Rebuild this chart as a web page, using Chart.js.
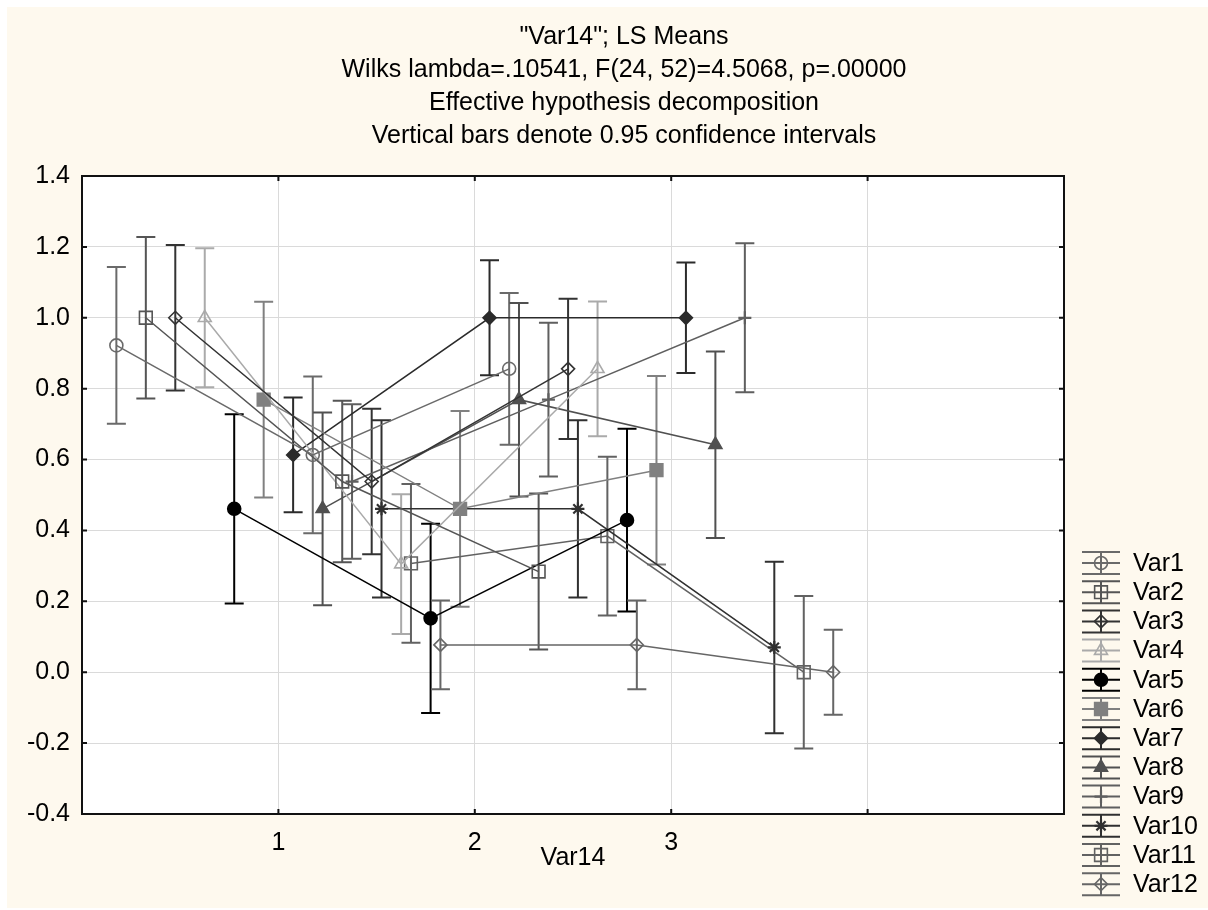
<!DOCTYPE html>
<html>
<head>
<meta charset="utf-8">
<title>"Var14"; LS Means</title>
<script src="https://cdn.jsdelivr.net/npm/chart.js@4.4.1/dist/chart.umd.min.js"></script>
<style>
  html, body { margin: 0; padding: 0; background: #ffffff; }
  #wrap { width: 1208px; height: 910px; }
</style>
</head>
<body>
<div id="wrap"><canvas id="lsChart" width="1208" height="910"></canvas></div>
<script>
// Levels of Var14 (x axis)
const categories = [1, 2, 3];
const xTickLabels = ['1', '2', '3'];
const yTickMin = -0.4;
const yTickMax = 1.4;
const yTickStep = 0.2;

const seriesNames = ['Var1', 'Var2', 'Var3', 'Var4', 'Var5', 'Var6',
                     'Var7', 'Var8', 'Var9', 'Var10', 'Var11', 'Var12'];

// LS means, one value per Var14 level
const var1Means  = [0.922, 0.613, 0.856];
const var2Means  = [1.000, 0.538, 0.284];
const var3Means  = [1.000, 0.538, 0.856];
const var4Means  = [1.000, 0.305, 0.856];
const var5Means  = [0.461, 0.152, 0.429];
const var6Means  = [0.769, 0.461, 0.570];
const var7Means  = [0.613, 1.000, 1.000];
const var8Means  = [0.461, 0.769, 0.642];
const var9Means  = [0.538, 0.769, 1.000];
const var10Means = [0.461, 0.461, 0.070];
const var11Means = [0.307, 0.384, 0.000];
const var12Means = [0.077, 0.077, 0.000];

// Half width of the 0.95 confidence interval
const var1Ci  = [0.221, 0.221, 0.214];
const var2Ci  = [0.228, 0.228, 0.220];
const var3Ci  = [0.205, 0.205, 0.198];
const var4Ci  = [0.196, 0.197, 0.190];
const var5Ci  = [0.267, 0.267, 0.258];
const var6Ci  = [0.276, 0.276, 0.266];
const var7Ci  = [0.162, 0.162, 0.156];
const var8Ci  = [0.272, 0.273, 0.263];
const var9Ci  = [0.218, 0.217, 0.210];
const var10Ci = [0.250, 0.250, 0.242];
const var11Ci = [0.224, 0.224, 0.215];
const var12Ci = [0.125, 0.125, 0.120];

const titleLines = [
    '"Var14"; LS Means',
    'Wilks lambda=.10541, F(24, 52)=4.5068, p=.00000',
    'Effective hypothesis decomposition',
    'Vertical bars denote 0.95 confidence intervals'
];

const allMeans = [var1Means, var2Means, var3Means, var4Means, var5Means, var6Means,
                  var7Means, var8Means, var9Means, var10Means, var11Means, var12Means];
const allCi = [var1Ci, var2Ci, var3Ci, var4Ci, var5Ci, var6Ci,
               var7Ci, var8Ci, var9Ci, var10Ci, var11Ci, var12Ci];

// Styles
const seriesColors = ['#6a6a6a', '#555555', '#333333', '#aaaaaa', '#000000', '#808080',
                      '#2b2b2b', '#505050', '#5f5f5f', '#303030', '#626262', '#666666'];
const pointStyles = ['circle', 'rect', 'rectRot', 'triangle', 'circle', 'rect',
                     'rectRot', 'triangle', 'cross', 'star', 'rect', 'rectRot'];
const pointFilled = [false, false, false, false, true, true, true, true, false, false, false, false];
const pointRadii = {circle: 6.5, rect: 9, rectRot: 6.5, triangle: 7.5, cross: 6.5, star: 6.5};

const FONT = '"Liberation Sans", Arial, sans-serif';
const FONT_SIZE = 25;
const BG = '#fef9ee';

// spread the 12 series side by side around each level
function seriesShift(i) {
    return (i - (seriesNames.length - 1) / 2) * 0.15;
}

const datasets = seriesNames.map((name, i) => {
    const color = seriesColors[i];
    const style = pointStyles[i];
    return {
        label: name,
        data: categories.map((c, j) => ({x: c + seriesShift(i), y: allMeans[i][j]})),
        ci: allCi[i],
        showLine: true,
        borderColor: color,
        borderWidth: 1.5,
        backgroundColor: color,
        pointStyle: style,
        pointRadius: pointRadii[style],
        pointBorderColor: color,
        pointBackgroundColor: pointFilled[i] ? color : 'rgba(0,0,0,0)',
        pointBorderWidth: (style === 'cross' || style === 'star') ? 2.2 : 1.6
    };
});

const statisticaFrame = {
    id: 'statisticaFrame',
    beforeDraw(chart) {
        const {ctx, chartArea: a} = chart;
        ctx.save();
        ctx.fillStyle = '#ffffff';
        ctx.fillRect(0, 0, chart.width, chart.height);
        ctx.fillStyle = BG;
        ctx.fillRect(7, 7, chart.width - 7, chart.height - 9);
        ctx.fillStyle = '#ffffff';
        ctx.fillRect(a.left, a.top, a.right - a.left, a.bottom - a.top);
        ctx.restore();
    },
    beforeDatasetsDraw(chart) {
        const {ctx, scales} = chart;
        // confidence interval bars
        chart.data.datasets.forEach((ds, i) => {
            const meta = chart.getDatasetMeta(i);
            ctx.save();
            ctx.strokeStyle = ds.borderColor;
            ctx.lineWidth = 2;
            meta.data.forEach((pt, j) => {
                const v = ds.data[j].y;
                const yTop = scales.y.getPixelForValue(v + ds.ci[j]);
                const yBot = scales.y.getPixelForValue(v - ds.ci[j]);
                const x = pt.x;
                ctx.beginPath();
                ctx.moveTo(x, yTop); ctx.lineTo(x, yBot);
                ctx.moveTo(x - 9.5, yTop); ctx.lineTo(x + 9.5, yTop);
                ctx.moveTo(x - 9.5, yBot); ctx.lineTo(x + 9.5, yBot);
                ctx.stroke();
            });
            ctx.restore();
        });
    },
    afterDraw(chart) {
        const {ctx, chartArea: a, scales} = chart;
        ctx.save();
        // plot box
        ctx.strokeStyle = '#111111';
        ctx.lineWidth = 2;
        ctx.strokeRect(a.left, a.top, a.right - a.left, a.bottom - a.top);
        // inward tick marks
        ctx.beginPath();
        scales.y.ticks.forEach(t => {
            const y = scales.y.getPixelForValue(t.value);
            ctx.moveTo(a.left, y); ctx.lineTo(a.left + 5, y);
            ctx.moveTo(a.right, y); ctx.lineTo(a.right - 5, y);
        });
        scales.x.ticks.forEach(t => {
            const x = scales.x.getPixelForValue(t.value);
            ctx.moveTo(x, a.top); ctx.lineTo(x, a.top + 5);
            ctx.moveTo(x, a.bottom); ctx.lineTo(x, a.bottom - 5);
        });
        ctx.stroke();

        // title
        ctx.fillStyle = '#000000';
        ctx.font = FONT_SIZE + 'px ' + FONT;
        ctx.textAlign = 'center';
        ctx.textBaseline = 'middle';
        titleLines.forEach((line, k) => ctx.fillText(line, 624, 37 + k * 33));

        // legend with error-bar icons
        ctx.textAlign = 'left';
        chart.data.datasets.forEach((ds, i) => {
            const cy = 563 + i * 29.2;
            const cx = 1101;
            ctx.strokeStyle = ds.borderColor;
            ctx.lineWidth = 2;
            ctx.beginPath();
            ctx.moveTo(cx - 19, cy - 11); ctx.lineTo(cx + 19, cy - 11);
            ctx.moveTo(cx - 19, cy); ctx.lineTo(cx + 19, cy);
            ctx.moveTo(cx - 19, cy + 11); ctx.lineTo(cx + 19, cy + 11);
            ctx.moveTo(cx, cy - 11); ctx.lineTo(cx, cy + 11);
            ctx.stroke();
            ctx.fillStyle = ds.pointBackgroundColor;
            ctx.lineWidth = ds.pointBorderWidth;
            Chart.helpers.drawPoint(ctx, {
                pointStyle: ds.pointStyle, radius: ds.pointRadius,
                rotation: 0, borderWidth: ds.pointBorderWidth
            }, cx, cy);
            ctx.fillStyle = '#000000';
            ctx.fillText(ds.label, 1133, cy + 1);
        });
        ctx.restore();
    }
};

const tickFont = {family: FONT, size: FONT_SIZE};

new Chart(document.getElementById('lsChart'), {
    type: 'scatter',
    data: {datasets: datasets},
    options: {
        responsive: false,
        animation: false,
        events: [],
        layout: {padding: {top: 176, right: 144, left: 0, bottom: 0}},
        plugins: {
            legend: {display: false},
            tooltip: {enabled: false},
            title: {display: false}
        },
        scales: {
            x: {
                type: 'linear',
                min: 0,
                max: 5,
                ticks: {
                    stepSize: 1,
                    autoSkip: false,
                    maxRotation: 0,
                    color: '#000000',
                    font: tickFont,
                    padding: 14,
                    callback: v => {
                        const k = categories.indexOf(v);
                        return k >= 0 ? xTickLabels[k] : '';
                    }
                },
                grid: {color: '#dadada', lineWidth: 1, drawTicks: false},
                border: {display: false},
                title: {
                    display: true,
                    text: 'Var14',
                    color: '#000000',
                    font: tickFont,
                    padding: {top: 0, bottom: 37}
                },
                afterFit(scale) {
                    scale.height = 96;
                    scale.paddingLeft = 0;
                    scale.paddingRight = 0;
                }
            },
            y: {
                min: yTickMin,
                max: yTickMax,
                ticks: {
                    stepSize: yTickStep,
                    color: '#000000',
                    font: tickFont,
                    padding: 12,
                    callback: v => (Math.abs(v) < 1e-9 ? 0 : v).toFixed(1)
                },
                grid: {color: '#dadada', lineWidth: 1, drawTicks: false},
                border: {display: false},
                afterFit(scale) {
                    scale.width = 82;
                    scale.paddingTop = 0;
                    scale.paddingBottom = 0;
                }
            }
        }
    },
    plugins: [statisticaFrame]
});
</script>
</body>
</html>
